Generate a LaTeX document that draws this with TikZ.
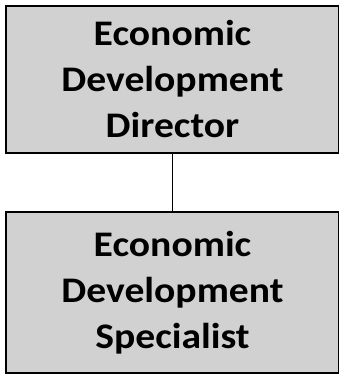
\documentclass[tikz,border=0pt]{standalone}
\usepackage{fontspec}
\setmainfont{Carlito}[FakeStretch=1.1]
\tikzset{
  unit/.style={draw, line width=1.8pt, fill=black!18, align=center,
    minimum width=333pt, inner sep=0pt,
    font=\bfseries\fontsize{36}{46}\selectfont},
}
\begin{document}
\begin{tikzpicture}[x=1pt,y=1pt]
      \useasboundingbox (0,0) rectangle (338,374);
      \draw
        (172.5,294.5) node[unit, minimum height=147pt] (director)
          {Economic\\Development\\Director}
        (172.5,81.5) node[unit, minimum height=161pt] (specialist)
          {Economic\\Development\\Specialist};
      \begin{scope}[-, line width=1.3pt]
        \draw (director.south) to (specialist.north);
      \end{scope}
    \end{tikzpicture}
\end{document}
